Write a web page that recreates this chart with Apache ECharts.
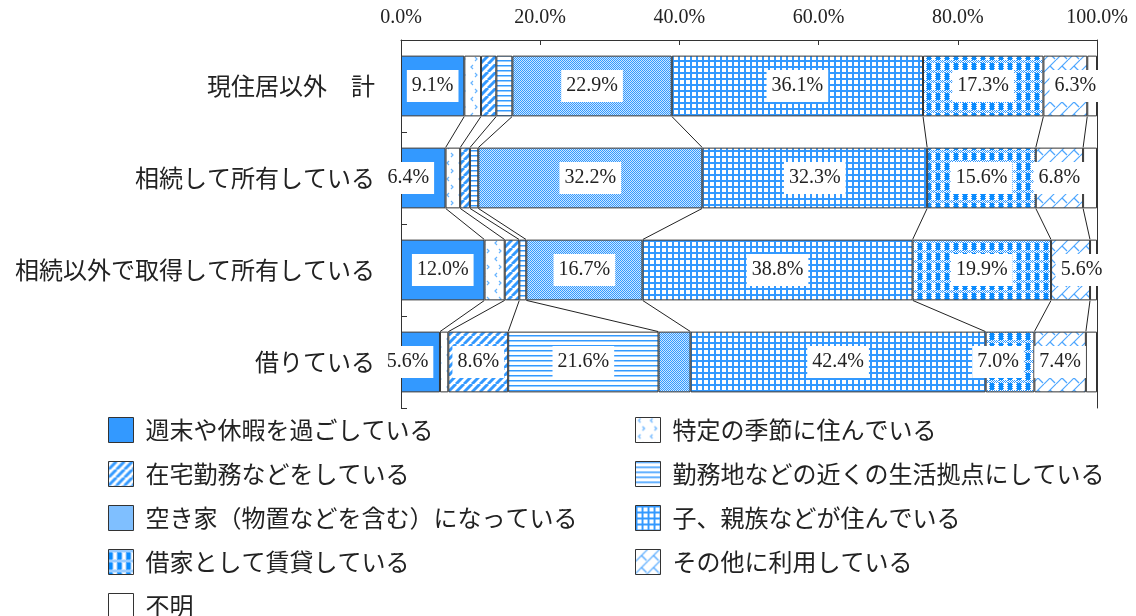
<!DOCTYPE html>
<html>
<head>
<meta charset="utf-8">
<script src="https://cdn.jsdelivr.net/npm/echarts@6/dist/echarts.min.js"></script>
<style>
  html, body { margin: 0; padding: 0; background: #fff; }
  #chart { width: 1136px; height: 616px; }
</style>
</head>
<body>
<div id="chart"></div>
<script>
// カテゴリ（上から順）
const categories = ['現住居以外　計', '相続して所有している', '相続以外で取得して所有している', '借りている'];
const seriesNames = [
  '週末や休暇を過ごしている', '特定の季節に住んでいる', '在宅勤務などをしている',
  '勤務地などの近くの生活拠点にしている', '空き家（物置などを含む）になっている',
  '子、親族などが住んでいる', '借家として賃貸している', 'その他に利用している', '不明'
];
// 各系列の値（％）、カテゴリ順
const weekend  = [9.1, 6.4, 12.0, 5.6];
const seasonal = [2.4, 2.1, 2.9, 1.2];
const telework = [2.2, 1.4, 2.1, 8.6];
const workBase = [2.3, 1.2, 1.0, 21.6];
const vacant   = [22.9, 32.2, 16.7, 4.6];
const family   = [36.1, 32.3, 38.8, 42.4];
const rental   = [17.3, 15.6, 19.9, 7.0];
const other    = [6.3, 6.8, 5.6, 7.4];
const unknown  = [1.4, 2.0, 1.0, 1.6];
const xTicks = [0, 20, 40, 60, 80, 100];

const values = [weekend, seasonal, telework, workBase, vacant, family, rental, other, unknown];

// ラベルがはみ出す所だけ横にずらす（系列-行: px）
const labelShift = { '0-1': -15, '0-3': -13, '7-0': 10, '7-2': 11, '6-3': -12 };

const BLUE = '#3399ff';
const serif = '"Liberation Serif", "DejaVu Serif", serif';
const jp = '"Noto Sans CJK JP", sans-serif';

function makePattern(w, h, draw) {
  const c = document.createElement('canvas');
  c.width = w; c.height = h;
  const ctx = c.getContext('2d');
  ctx.fillStyle = '#fff';
  ctx.fillRect(0, 0, w, h);
  draw(ctx);
  return { image: c, repeat: 'repeat' };
}

function dither(ctx, x0, y0, w, h, color) {
  ctx.fillStyle = color;
  for (let x = x0; x < x0 + w; x++) {
    for (let y = y0; y < y0 + h; y++) {
      if ((x + y) % 2 === 0) ctx.fillRect(x, y, 1, 1);
    }
  }
}

const fills = [
  BLUE,
  // 特定の季節：小さい < > 記号
  makePattern(12, 16, function (ctx) {
    ctx.strokeStyle = '#66b3ff'; ctx.lineWidth = 1.2;
    ctx.beginPath(); ctx.moveTo(5, 1); ctx.lineTo(3, 3); ctx.lineTo(5, 5); ctx.stroke();
    ctx.beginPath(); ctx.moveTo(7, 9); ctx.lineTo(9, 11); ctx.lineTo(7, 13); ctx.stroke();
  }),
  // 在宅勤務：斜線
  makePattern(8, 8, function (ctx) {
    ctx.strokeStyle = BLUE; ctx.lineWidth = 3;
    [-8, 0, 8].forEach(function (o) {
      ctx.beginPath(); ctx.moveTo(o, 8); ctx.lineTo(o + 8, 0); ctx.stroke();
    });
  }),
  // 勤務地：横線
  makePattern(4, 5, function (ctx) {
    ctx.fillStyle = BLUE; ctx.fillRect(0, 0, 4, 1);
    ctx.fillStyle = '#99ccff'; ctx.fillRect(0, 1, 4, 1);
  }),
  // 空き家：細かい網点
  makePattern(2, 2, function (ctx) {
    ctx.fillStyle = '#cce6ff'; ctx.fillRect(0, 0, 2, 2);
    ctx.fillStyle = BLUE; ctx.fillRect(0, 0, 1, 1); ctx.fillRect(1, 1, 1, 1);
  }),
  // 子、親族：格子
  makePattern(6, 6, function (ctx) {
    ctx.fillStyle = BLUE; ctx.fillRect(0, 0, 6, 2); ctx.fillRect(0, 0, 2, 6);
  }),
  // 借家：大きい格子
  makePattern(9, 10, function (ctx) {
    dither(ctx, 0, 0, 9, 3, '#3399ff');
    ctx.fillStyle = '#0a8cff'; ctx.fillRect(0, 3, 4, 7);
    dither(ctx, 4, 3, 1, 7, '#3399ff');
    dither(ctx, 8, 3, 1, 7, '#3399ff');
  }),
  // その他：ジグザグ
  makePattern(12, 12, function (ctx) {
    ctx.strokeStyle = '#4da6ff'; ctx.lineWidth = 1.2;
    [-12, 0, 12].forEach(function (o) {
      ctx.beginPath(); ctx.moveTo(o, 12); ctx.lineTo(o + 12, 0); ctx.stroke();
    });
    ctx.beginPath(); ctx.moveTo(6, 6); ctx.lineTo(11, 11); ctx.stroke();
    ctx.beginPath(); ctx.moveTo(-6, 6); ctx.lineTo(-1, 11); ctx.stroke();
  }),
  '#fff'
];

// 累積値（区分線用）
const cum = categories.map(function (c, r) {
  const arr = [0];
  values.forEach(function (v) { arr.push(arr[arr.length - 1] + v[r]); });
  return arr;
});

const BAR_RATIO = 0.66;

const barSeries = seriesNames.map(function (name, s) {
  return {
    name: name,
    type: 'bar',
    stack: 'total',
    barWidth: (BAR_RATIO * 100) + '%',
    itemStyle: { color: fills[s], borderColor: '#333', borderWidth: 1 },
    label: {
      position: 'inside',
      backgroundColor: '#fff',
      padding: [6, 5],
      fontFamily: serif,
      fontSize: 20,
      color: '#222',
      formatter: function (p) { return p.value.toFixed(1) + '%'; }
    },
    data: values[s].map(function (v, r) {
      const dx = labelShift[s + '-' + r] || 0;
      return { value: v, label: { show: v >= 5, offset: [dx, 0] } };
    })
  };
});

// 棒と棒をつなぐ線
const connector = {
  type: 'custom',
  silent: true,
  z: 5,
  encode: { x: 0, y: 1 },
  data: [[0, 0], [0, 1], [0, 2]],
  renderItem: function (params, api) {
    const r = api.value(1);
    const half = api.size([0, 1])[1] * BAR_RATIO / 2;
    const children = [];
    for (let k = 1; k < values.length; k++) {
      const a = api.coord([cum[r][k], r]);
      const b = api.coord([cum[r + 1][k], r + 1]);
      children.push({
        type: 'line',
        shape: { x1: a[0], y1: a[1] + half, x2: b[0], y2: b[1] - half },
        style: { stroke: '#222', lineWidth: 1 }
      });
    }
    return { type: 'group', children: children };
  }
};

const legendBase = {
  orient: 'vertical',
  top: 417,
  height: 240,
  padding: 0,
  itemWidth: 25,
  itemHeight: 25,
  itemGap: 18,
  icon: 'rect',
  itemStyle: { borderColor: '#333', borderWidth: 1 },
  textStyle: { fontFamily: jp, fontSize: 24, lineHeight: 25, color: '#222', padding: [0, 0, 0, 7] }
};

const chart = echarts.init(document.getElementById('chart'));
chart.setOption({
  animation: false,
  backgroundColor: '#fff',
  grid: { left: 401, right: 39, top: 40, bottom: 208 },
  xAxis: {
    type: 'value',
    position: 'top',
    min: 0,
    max: 100,
    interval: 20,
    splitLine: { show: false },
    axisLine: { show: true, lineStyle: { color: '#333' } },
    axisTick: { show: true, inside: true, length: 5, lineStyle: { color: '#333' } },
    axisLabel: {
      margin: 12,
      fontFamily: serif,
      fontSize: 20,
      color: '#222',
      formatter: function (v) { return xTicks.indexOf(v) >= 0 ? v.toFixed(1) + '%' : ''; }
    }
  },
  yAxis: [{
    type: 'category',
    inverse: true,
    data: categories,
    axisLine: { show: true, lineStyle: { color: '#333' } },
    axisTick: { show: true, inside: true, length: 6, lineStyle: { color: '#333' } },
    axisLabel: { margin: 26, fontFamily: jp, fontSize: 24, color: '#222' }
  }, {
    type: 'category',
    inverse: true,
    position: 'right',
    data: categories,
    axisLine: { show: true, lineStyle: { color: '#333' } },
    axisTick: { show: false },
    axisLabel: { show: false }
  }],
  legend: [
    Object.assign({}, legendBase, { left: 108, data: [0, 2, 4, 6, 8].map(function (i) { return seriesNames[i]; }) }),
    Object.assign({}, legendBase, { left: 635, data: [1, 3, 5, 7].map(function (i) { return seriesNames[i]; }) })
  ],
  series: barSeries.concat([connector])
});
</script>
</body>
</html>
